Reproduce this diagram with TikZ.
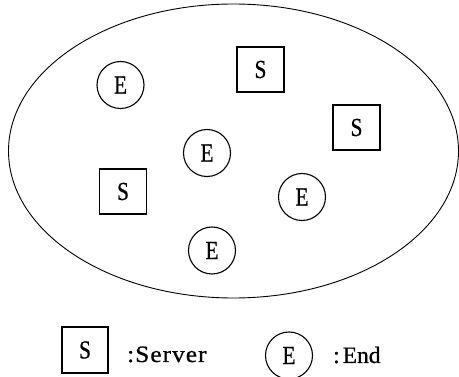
\documentclass[tikz,border=0pt]{standalone}
\usepackage{fontspec}
\setmainfont{Liberation Serif}[FakeBold=0.8]
\newfontfamily\wideserif[LetterSpace=4,FakeBold=0.8]{Liberation Serif}
\newcommand{\narrowlet}[1]{\scalebox{0.82}[1]{#1}}
\begin{document}
\begin{tikzpicture}[x=1pt,y=1pt,
  shapefont/.style={font=\fontsize{26}{30}\selectfont},
  sbox/.style={draw, line width=1.1pt, minimum width=47pt, minimum height=45pt, inner sep=0pt, shapefont},
  ebox/.style={draw, circle, line width=1.1pt, minimum size=47pt, inner sep=0pt, shapefont},
  legtext/.style={anchor=base west, inner sep=0pt, font=\fontsize{23.5}{26}\selectfont}]
\useasboundingbox (0,0) rectangle (459,-377);
\draw[line width=0.9pt] (233.5,-151) ellipse [x radius=225, y radius=147];
\node[ebox] (e1) at (120.5,-85) {\narrowlet{E}};
\node[ebox] (e2) at (207,-153) {\narrowlet{E}};
\node[ebox] (e3) at (302,-197) {\narrowlet{E}};
\node[ebox] (e4) at (212,-250.5) {\narrowlet{E}};
\node[sbox] (s1) at (260.5,-69.5) {\narrowlet{S}};
\node[sbox] (s2) at (356.5,-127.5) {\narrowlet{S}};
\node[sbox] (s3) at (123,-191.5) {\narrowlet{S}};
\node[sbox, minimum width=46pt, minimum height=46pt] (ls) at (85,-350) {\raisebox{-7pt}{\narrowlet{S}}};
\node[legtext] (lst) at (127,-362) {\scalebox{1.08}[1]{\wideserif :Server}};
\node[ebox] (le) at (289,-355.5) {\raisebox{-4pt}{\narrowlet{E}}};
\node[legtext] (let) at (333,-363) {:\kern3pt End};
\end{tikzpicture}
\end{document}
